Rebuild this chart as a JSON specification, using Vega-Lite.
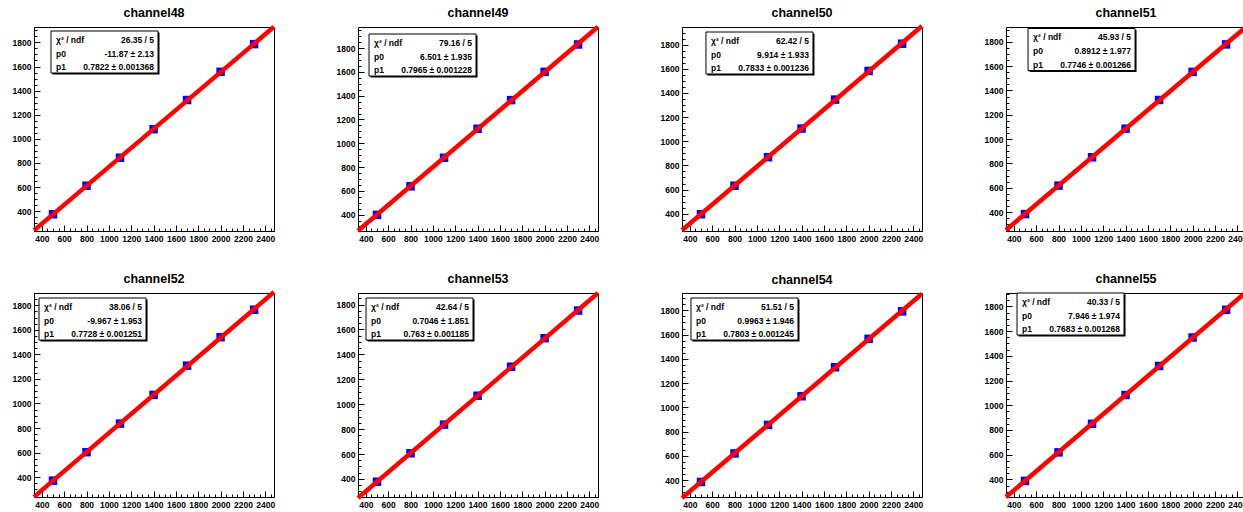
{
"$schema": "https://vega.github.io/schema/vega-lite/v6.json",
"background": "white",
"padding": {"left": 11, "top": 6, "right": 0, "bottom": 0},
"datasets": {
"points": [
{"ch":"channel48","x":500,"y":374},{"ch":"channel48","x":800,"y":611},{"ch":"channel48","x":1100,"y":843},{"ch":"channel48","x":1400,"y":1080},{"ch":"channel48","x":1700,"y":1322},{"ch":"channel48","x":2000,"y":1556},{"ch":"channel48","x":2300,"y":1786},
{"ch":"channel49","x":500,"y":398},{"ch":"channel49","x":800,"y":638},{"ch":"channel49","x":1100,"y":878},{"ch":"channel49","x":1400,"y":1122},{"ch":"channel49","x":1700,"y":1363},{"ch":"channel49","x":2000,"y":1601},{"ch":"channel49","x":2300,"y":1831},
{"ch":"channel50","x":500,"y":396},{"ch":"channel50","x":800,"y":632},{"ch":"channel50","x":1100,"y":868},{"ch":"channel50","x":1400,"y":1105},{"ch":"channel50","x":1700,"y":1345},{"ch":"channel50","x":2000,"y":1582},{"ch":"channel50","x":2300,"y":1808},
{"ch":"channel51","x":500,"y":384},{"ch":"channel51","x":800,"y":618},{"ch":"channel51","x":1100,"y":851},{"ch":"channel51","x":1400,"y":1086},{"ch":"channel51","x":1700,"y":1322},{"ch":"channel51","x":2000,"y":1553},{"ch":"channel51","x":2300,"y":1779},
{"ch":"channel52","x":500,"y":371},{"ch":"channel52","x":800,"y":603},{"ch":"channel52","x":1100,"y":836},{"ch":"channel52","x":1400,"y":1070},{"ch":"channel52","x":1700,"y":1308},{"ch":"channel52","x":2000,"y":1540},{"ch":"channel52","x":2300,"y":1764},
{"ch":"channel53","x":500,"y":378},{"ch":"channel53","x":800,"y":606},{"ch":"channel53","x":1100,"y":836},{"ch":"channel53","x":1400,"y":1068},{"ch":"channel53","x":1700,"y":1301},{"ch":"channel53","x":2000,"y":1530},{"ch":"channel53","x":2300,"y":1752},
{"ch":"channel54","x":500,"y":386},{"ch":"channel54","x":800,"y":621},{"ch":"channel54","x":1100,"y":856},{"ch":"channel54","x":1400,"y":1092},{"ch":"channel54","x":1700,"y":1331},{"ch":"channel54","x":2000,"y":1565},{"ch":"channel54","x":2300,"y":1792},
{"ch":"channel55","x":500,"y":388},{"ch":"channel55","x":800,"y":619},{"ch":"channel55","x":1100,"y":850},{"ch":"channel55","x":1400,"y":1083},{"ch":"channel55","x":1700,"y":1318},{"ch":"channel55","x":2000,"y":1548},{"ch":"channel55","x":2300,"y":1772}
],
"stats": [
{"ch":"channel48","row":1,"label":"χ² / ndf","value":"26.35 / 5"},{"ch":"channel48","row":2,"label":"p0","value":"-11.87 ± 2.13"},{"ch":"channel48","row":3,"label":"p1","value":"0.7822 ± 0.001368"},
{"ch":"channel49","row":1,"label":"χ² / ndf","value":"79.16 / 5"},{"ch":"channel49","row":2,"label":"p0","value":"6.501 ± 1.935"},{"ch":"channel49","row":3,"label":"p1","value":"0.7965 ± 0.001228"},
{"ch":"channel50","row":1,"label":"χ² / ndf","value":"62.42 / 5"},{"ch":"channel50","row":2,"label":"p0","value":"9.914 ± 1.933"},{"ch":"channel50","row":3,"label":"p1","value":"0.7833 ± 0.001236"},
{"ch":"channel51","row":1,"label":"χ² / ndf","value":"45.93 / 5"},{"ch":"channel51","row":2,"label":"p0","value":"0.8912 ± 1.977"},{"ch":"channel51","row":3,"label":"p1","value":"0.7746 ± 0.001266"},
{"ch":"channel52","row":1,"label":"χ² / ndf","value":"38.06 / 5"},{"ch":"channel52","row":2,"label":"p0","value":"-9.967 ± 1.953"},{"ch":"channel52","row":3,"label":"p1","value":"0.7728 ± 0.001251"},
{"ch":"channel53","row":1,"label":"χ² / ndf","value":"42.64 / 5"},{"ch":"channel53","row":2,"label":"p0","value":"0.7046 ± 1.851"},{"ch":"channel53","row":3,"label":"p1","value":"0.763 ± 0.001185"},
{"ch":"channel54","row":1,"label":"χ² / ndf","value":"51.51 / 5"},{"ch":"channel54","row":2,"label":"p0","value":"0.9963 ± 1.946"},{"ch":"channel54","row":3,"label":"p1","value":"0.7803 ± 0.001245"},
{"ch":"channel55","row":1,"label":"χ² / ndf","value":"40.33 / 5"},{"ch":"channel55","row":2,"label":"p0","value":"7.946 ± 1.974"},{"ch":"channel55","row":3,"label":"p1","value":"0.7683 ± 0.001268"}
]
},
"columns": 4,
"spacing": {"row": 62, "column": 84},
"bounds": "flush",
"concat": [
{"title":"channel48","width":240,"height":204,"resolve":{"scale":{"x":"independent","y":"independent"}},"layer":[
 {"data":{"name":"points"},"transform":[{"filter":"datum.ch === 'channel48'"}],
  "encoding":{"x":{"field":"x","type":"quantitative","scale":{"domain":[330,2478],"nice":false,"zero":false},"axis":{"title":null,"format":"d","tickCount":40,"labelExpr":"datum.value % 200 === 0 ? datum.label : ''","tickSize":{"condition":{"test":"datum.value % 200 === 0","value":-6},"value":-3},"labelPadding":9}},
   "y":{"field":"y","type":"quantitative","scale":{"domain":[235,1928],"nice":false,"zero":false},"axis":{"title":null,"format":"d","tickCount":40,"labelExpr":"datum.value % 200 === 0 ? datum.label : ''","tickSize":{"condition":{"test":"datum.value % 200 === 0","value":-6},"value":-3},"labelPadding":9}}},
  "layer":[{"mark":{"type":"square","size":72,"color":"#0000ff","opacity":1}},
   {"transform":[{"regression":"y","on":"x","extent":[330,2478]}],"mark":{"type":"line","color":"#ff0000","strokeWidth":4.5}}]},
 {"data":{"name":"stats"},"transform":[{"filter":"datum.ch === 'channel48'"}],"layer":[
  {"transform":[{"filter":"datum.row === 1"}],"mark":{"type":"rect","fill":"black"},"encoding":{"x":{"datum":0.014,"type":"quantitative","scale":{"domain":[-0.159,2.084],"nice":false,"zero":false},"axis":null},"x2":{"datum":1.014},"y":{"datum":0.45,"type":"quantitative","scale":{"domain":[0.051,14.94],"nice":false,"zero":false,"reverse":true},"axis":null},"y2":{"datum":3.52}}},
  {"transform":[{"filter":"datum.row === 1"}],"mark":{"type":"rect","fill":"white","stroke":"black","strokeWidth":1},"encoding":{"x":{"datum":0,"type":"quantitative","scale":{"domain":[-0.159,2.084],"nice":false,"zero":false},"axis":null},"x2":{"datum":1},"y":{"datum":0.343,"type":"quantitative","scale":{"domain":[0.051,14.94],"nice":false,"zero":false,"reverse":true},"axis":null},"y2":{"datum":3.409}}},
  {"mark":{"type":"text","align":"left","baseline":"middle","font":"Liberation Sans","fontWeight":"bold","fontSize":8.5,"color":"black"},"encoding":{"x":{"datum":0.047,"type":"quantitative","scale":{"domain":[-0.159,2.084],"nice":false,"zero":false},"axis":null},"y":{"field":"row","type":"quantitative","scale":{"domain":[0.051,14.94],"nice":false,"zero":false,"reverse":true},"axis":null},"text":{"field":"label"}}},
  {"mark":{"type":"text","align":"right","baseline":"middle","font":"Liberation Sans","fontWeight":"bold","fontSize":8.5,"color":"black"},"encoding":{"x":{"datum":0.963,"type":"quantitative","scale":{"domain":[-0.159,2.084],"nice":false,"zero":false},"axis":null},"y":{"field":"row","type":"quantitative","scale":{"domain":[0.051,14.94],"nice":false,"zero":false,"reverse":true},"axis":null},"text":{"field":"value"}}}
 ]}
]},
{"title":"channel49","width":240,"height":204,"resolve":{"scale":{"x":"independent","y":"independent"}},"layer":[
 {"data":{"name":"points"},"transform":[{"filter":"datum.ch === 'channel49'"}],
  "encoding":{"x":{"field":"x","type":"quantitative","scale":{"domain":[330,2478],"nice":false,"zero":false},"axis":{"title":null,"format":"d","tickCount":40,"labelExpr":"datum.value % 200 === 0 ? datum.label : ''","tickSize":{"condition":{"test":"datum.value % 200 === 0","value":-6},"value":-3},"labelPadding":9}},
   "y":{"field":"y","type":"quantitative","scale":{"domain":[262,1978],"nice":false,"zero":false},"axis":{"title":null,"format":"d","tickCount":40,"labelExpr":"datum.value % 200 === 0 ? datum.label : ''","tickSize":{"condition":{"test":"datum.value % 200 === 0","value":-6},"value":-3},"labelPadding":9}}},
  "layer":[{"mark":{"type":"square","size":72,"color":"#0000ff","opacity":1}},
   {"transform":[{"regression":"y","on":"x","extent":[330,2478]}],"mark":{"type":"line","color":"#ff0000","strokeWidth":4.5}}]},
 {"data":{"name":"stats"},"transform":[{"filter":"datum.ch === 'channel49'"}],"layer":[
  {"transform":[{"filter":"datum.row === 1"}],"mark":{"type":"rect","fill":"black"},"encoding":{"x":{"datum":0.014,"type":"quantitative","scale":{"domain":[-0.103,2.140],"nice":false,"zero":false},"axis":null},"x2":{"datum":1.014},"y":{"datum":0.45,"type":"quantitative","scale":{"domain":[-0.168,14.72],"nice":false,"zero":false,"reverse":true},"axis":null},"y2":{"datum":3.52}}},
  {"transform":[{"filter":"datum.row === 1"}],"mark":{"type":"rect","fill":"white","stroke":"black","strokeWidth":1},"encoding":{"x":{"datum":0,"type":"quantitative","scale":{"domain":[-0.103,2.140],"nice":false,"zero":false},"axis":null},"x2":{"datum":1},"y":{"datum":0.343,"type":"quantitative","scale":{"domain":[-0.168,14.72],"nice":false,"zero":false,"reverse":true},"axis":null},"y2":{"datum":3.409}}},
  {"mark":{"type":"text","align":"left","baseline":"middle","font":"Liberation Sans","fontWeight":"bold","fontSize":8.5,"color":"black"},"encoding":{"x":{"datum":0.047,"type":"quantitative","scale":{"domain":[-0.103,2.140],"nice":false,"zero":false},"axis":null},"y":{"field":"row","type":"quantitative","scale":{"domain":[-0.168,14.72],"nice":false,"zero":false,"reverse":true},"axis":null},"text":{"field":"label"}}},
  {"mark":{"type":"text","align":"right","baseline":"middle","font":"Liberation Sans","fontWeight":"bold","fontSize":8.5,"color":"black"},"encoding":{"x":{"datum":0.963,"type":"quantitative","scale":{"domain":[-0.103,2.140],"nice":false,"zero":false},"axis":null},"y":{"field":"row","type":"quantitative","scale":{"domain":[-0.168,14.72],"nice":false,"zero":false,"reverse":true},"axis":null},"text":{"field":"value"}}}
 ]}
]},
{"title":"channel50","width":240,"height":204,"resolve":{"scale":{"x":"independent","y":"independent"}},"layer":[
 {"data":{"name":"points"},"transform":[{"filter":"datum.ch === 'channel50'"}],
  "encoding":{"x":{"field":"x","type":"quantitative","scale":{"domain":[330,2478],"nice":false,"zero":false},"axis":{"title":null,"format":"d","tickCount":40,"labelExpr":"datum.value % 200 === 0 ? datum.label : ''","tickSize":{"condition":{"test":"datum.value % 200 === 0","value":-6},"value":-3},"labelPadding":9}},
   "y":{"field":"y","type":"quantitative","scale":{"domain":[257,1946],"nice":false,"zero":false},"axis":{"title":null,"format":"d","tickCount":40,"labelExpr":"datum.value % 200 === 0 ? datum.label : ''","tickSize":{"condition":{"test":"datum.value % 200 === 0","value":-6},"value":-3},"labelPadding":9}}},
  "layer":[{"mark":{"type":"square","size":72,"color":"#0000ff","opacity":1}},
   {"transform":[{"regression":"y","on":"x","extent":[330,2478]}],"mark":{"type":"line","color":"#ff0000","strokeWidth":4.5}}]},
 {"data":{"name":"stats"},"transform":[{"filter":"datum.ch === 'channel50'"}],"layer":[
  {"transform":[{"filter":"datum.row === 1"}],"mark":{"type":"rect","fill":"black"},"encoding":{"x":{"datum":0.014,"type":"quantitative","scale":{"domain":[-0.224,2.019],"nice":false,"zero":false},"axis":null},"x2":{"datum":1.014},"y":{"datum":0.45,"type":"quantitative","scale":{"domain":[-0.022,14.87],"nice":false,"zero":false,"reverse":true},"axis":null},"y2":{"datum":3.52}}},
  {"transform":[{"filter":"datum.row === 1"}],"mark":{"type":"rect","fill":"white","stroke":"black","strokeWidth":1},"encoding":{"x":{"datum":0,"type":"quantitative","scale":{"domain":[-0.224,2.019],"nice":false,"zero":false},"axis":null},"x2":{"datum":1},"y":{"datum":0.343,"type":"quantitative","scale":{"domain":[-0.022,14.87],"nice":false,"zero":false,"reverse":true},"axis":null},"y2":{"datum":3.409}}},
  {"mark":{"type":"text","align":"left","baseline":"middle","font":"Liberation Sans","fontWeight":"bold","fontSize":8.5,"color":"black"},"encoding":{"x":{"datum":0.047,"type":"quantitative","scale":{"domain":[-0.224,2.019],"nice":false,"zero":false},"axis":null},"y":{"field":"row","type":"quantitative","scale":{"domain":[-0.022,14.87],"nice":false,"zero":false,"reverse":true},"axis":null},"text":{"field":"label"}}},
  {"mark":{"type":"text","align":"right","baseline":"middle","font":"Liberation Sans","fontWeight":"bold","fontSize":8.5,"color":"black"},"encoding":{"x":{"datum":0.963,"type":"quantitative","scale":{"domain":[-0.224,2.019],"nice":false,"zero":false},"axis":null},"y":{"field":"row","type":"quantitative","scale":{"domain":[-0.022,14.87],"nice":false,"zero":false,"reverse":true},"axis":null},"text":{"field":"value"}}}
 ]}
]},
{"title":"channel51","width":240,"height":204,"resolve":{"scale":{"x":"independent","y":"independent"}},"layer":[
 {"data":{"name":"points"},"transform":[{"filter":"datum.ch === 'channel51'"}],
  "encoding":{"x":{"field":"x","type":"quantitative","scale":{"domain":[330,2478],"nice":false,"zero":false},"axis":{"title":null,"format":"d","tickCount":40,"labelExpr":"datum.value % 200 === 0 ? datum.label : ''","tickSize":{"condition":{"test":"datum.value % 200 === 0","value":-6},"value":-3},"labelPadding":9}},
   "y":{"field":"y","type":"quantitative","scale":{"domain":[245,1922],"nice":false,"zero":false},"axis":{"title":null,"format":"d","tickCount":40,"labelExpr":"datum.value % 200 === 0 ? datum.label : ''","tickSize":{"condition":{"test":"datum.value % 200 === 0","value":-6},"value":-3},"labelPadding":9}}},
  "layer":[{"mark":{"type":"square","size":72,"color":"#0000ff","opacity":1}},
   {"transform":[{"regression":"y","on":"x","extent":[330,2478]}],"mark":{"type":"line","color":"#ff0000","strokeWidth":4.5}}]},
 {"data":{"name":"stats"},"transform":[{"filter":"datum.ch === 'channel51'"}],"layer":[
  {"transform":[{"filter":"datum.row === 1"}],"mark":{"type":"rect","fill":"black"},"encoding":{"x":{"datum":0.014,"type":"quantitative","scale":{"domain":[-0.206,2.037],"nice":false,"zero":false},"axis":null},"x2":{"datum":1.014},"y":{"datum":0.45,"type":"quantitative","scale":{"domain":[0.234,15.12],"nice":false,"zero":false,"reverse":true},"axis":null},"y2":{"datum":3.52}}},
  {"transform":[{"filter":"datum.row === 1"}],"mark":{"type":"rect","fill":"white","stroke":"black","strokeWidth":1},"encoding":{"x":{"datum":0,"type":"quantitative","scale":{"domain":[-0.206,2.037],"nice":false,"zero":false},"axis":null},"x2":{"datum":1},"y":{"datum":0.343,"type":"quantitative","scale":{"domain":[0.234,15.12],"nice":false,"zero":false,"reverse":true},"axis":null},"y2":{"datum":3.409}}},
  {"mark":{"type":"text","align":"left","baseline":"middle","font":"Liberation Sans","fontWeight":"bold","fontSize":8.5,"color":"black"},"encoding":{"x":{"datum":0.047,"type":"quantitative","scale":{"domain":[-0.206,2.037],"nice":false,"zero":false},"axis":null},"y":{"field":"row","type":"quantitative","scale":{"domain":[0.234,15.12],"nice":false,"zero":false,"reverse":true},"axis":null},"text":{"field":"label"}}},
  {"mark":{"type":"text","align":"right","baseline":"middle","font":"Liberation Sans","fontWeight":"bold","fontSize":8.5,"color":"black"},"encoding":{"x":{"datum":0.963,"type":"quantitative","scale":{"domain":[-0.206,2.037],"nice":false,"zero":false},"axis":null},"y":{"field":"row","type":"quantitative","scale":{"domain":[0.234,15.12],"nice":false,"zero":false,"reverse":true},"axis":null},"text":{"field":"value"}}}
 ]}
]},
{"title":"channel52","width":240,"height":204,"resolve":{"scale":{"x":"independent","y":"independent"}},"layer":[
 {"data":{"name":"points"},"transform":[{"filter":"datum.ch === 'channel52'"}],
  "encoding":{"x":{"field":"x","type":"quantitative","scale":{"domain":[330,2478],"nice":false,"zero":false},"axis":{"title":null,"format":"d","tickCount":40,"labelExpr":"datum.value % 200 === 0 ? datum.label : ''","tickSize":{"condition":{"test":"datum.value % 200 === 0","value":-6},"value":-3},"labelPadding":9}},
   "y":{"field":"y","type":"quantitative","scale":{"domain":[238,1900],"nice":false,"zero":false},"axis":{"title":null,"format":"d","tickCount":40,"labelExpr":"datum.value % 200 === 0 ? datum.label : ''","tickSize":{"condition":{"test":"datum.value % 200 === 0","value":-6},"value":-3},"labelPadding":9}}},
  "layer":[{"mark":{"type":"square","size":72,"color":"#0000ff","opacity":1}},
   {"transform":[{"regression":"y","on":"x","extent":[330,2478]}],"mark":{"type":"line","color":"#ff0000","strokeWidth":4.5}}]},
 {"data":{"name":"stats"},"transform":[{"filter":"datum.ch === 'channel52'"}],"layer":[
  {"transform":[{"filter":"datum.row === 1"}],"mark":{"type":"rect","fill":"black"},"encoding":{"x":{"datum":0.014,"type":"quantitative","scale":{"domain":[-0.047,2.196],"nice":false,"zero":false},"axis":null},"x2":{"datum":1.014},"y":{"datum":0.45,"type":"quantitative","scale":{"domain":[-0.022,14.87],"nice":false,"zero":false,"reverse":true},"axis":null},"y2":{"datum":3.52}}},
  {"transform":[{"filter":"datum.row === 1"}],"mark":{"type":"rect","fill":"white","stroke":"black","strokeWidth":1},"encoding":{"x":{"datum":0,"type":"quantitative","scale":{"domain":[-0.047,2.196],"nice":false,"zero":false},"axis":null},"x2":{"datum":1},"y":{"datum":0.343,"type":"quantitative","scale":{"domain":[-0.022,14.87],"nice":false,"zero":false,"reverse":true},"axis":null},"y2":{"datum":3.409}}},
  {"mark":{"type":"text","align":"left","baseline":"middle","font":"Liberation Sans","fontWeight":"bold","fontSize":8.5,"color":"black"},"encoding":{"x":{"datum":0.047,"type":"quantitative","scale":{"domain":[-0.047,2.196],"nice":false,"zero":false},"axis":null},"y":{"field":"row","type":"quantitative","scale":{"domain":[-0.022,14.87],"nice":false,"zero":false,"reverse":true},"axis":null},"text":{"field":"label"}}},
  {"mark":{"type":"text","align":"right","baseline":"middle","font":"Liberation Sans","fontWeight":"bold","fontSize":8.5,"color":"black"},"encoding":{"x":{"datum":0.963,"type":"quantitative","scale":{"domain":[-0.047,2.196],"nice":false,"zero":false},"axis":null},"y":{"field":"row","type":"quantitative","scale":{"domain":[-0.022,14.87],"nice":false,"zero":false,"reverse":true},"axis":null},"text":{"field":"value"}}}
 ]}
]},
{"title":"channel53","width":240,"height":204,"resolve":{"scale":{"x":"independent","y":"independent"}},"layer":[
 {"data":{"name":"points"},"transform":[{"filter":"datum.ch === 'channel53'"}],
  "encoding":{"x":{"field":"x","type":"quantitative","scale":{"domain":[330,2478],"nice":false,"zero":false},"axis":{"title":null,"format":"d","tickCount":40,"labelExpr":"datum.value % 200 === 0 ? datum.label : ''","tickSize":{"condition":{"test":"datum.value % 200 === 0","value":-6},"value":-3},"labelPadding":9}},
   "y":{"field":"y","type":"quantitative","scale":{"domain":[255,1893],"nice":false,"zero":false},"axis":{"title":null,"format":"d","tickCount":40,"labelExpr":"datum.value % 200 === 0 ? datum.label : ''","tickSize":{"condition":{"test":"datum.value % 200 === 0","value":-6},"value":-3},"labelPadding":9}}},
  "layer":[{"mark":{"type":"square","size":72,"color":"#0000ff","opacity":1}},
   {"transform":[{"regression":"y","on":"x","extent":[330,2478]}],"mark":{"type":"line","color":"#ff0000","strokeWidth":4.5}}]},
 {"data":{"name":"stats"},"transform":[{"filter":"datum.ch === 'channel53'"}],"layer":[
  {"transform":[{"filter":"datum.row === 1"}],"mark":{"type":"rect","fill":"black"},"encoding":{"x":{"datum":0.014,"type":"quantitative","scale":{"domain":[-0.075,2.168],"nice":false,"zero":false},"axis":null},"x2":{"datum":1.014},"y":{"datum":0.45,"type":"quantitative","scale":{"domain":[-0.022,14.87],"nice":false,"zero":false,"reverse":true},"axis":null},"y2":{"datum":3.52}}},
  {"transform":[{"filter":"datum.row === 1"}],"mark":{"type":"rect","fill":"white","stroke":"black","strokeWidth":1},"encoding":{"x":{"datum":0,"type":"quantitative","scale":{"domain":[-0.075,2.168],"nice":false,"zero":false},"axis":null},"x2":{"datum":1},"y":{"datum":0.343,"type":"quantitative","scale":{"domain":[-0.022,14.87],"nice":false,"zero":false,"reverse":true},"axis":null},"y2":{"datum":3.409}}},
  {"mark":{"type":"text","align":"left","baseline":"middle","font":"Liberation Sans","fontWeight":"bold","fontSize":8.5,"color":"black"},"encoding":{"x":{"datum":0.047,"type":"quantitative","scale":{"domain":[-0.075,2.168],"nice":false,"zero":false},"axis":null},"y":{"field":"row","type":"quantitative","scale":{"domain":[-0.022,14.87],"nice":false,"zero":false,"reverse":true},"axis":null},"text":{"field":"label"}}},
  {"mark":{"type":"text","align":"right","baseline":"middle","font":"Liberation Sans","fontWeight":"bold","fontSize":8.5,"color":"black"},"encoding":{"x":{"datum":0.963,"type":"quantitative","scale":{"domain":[-0.075,2.168],"nice":false,"zero":false},"axis":null},"y":{"field":"row","type":"quantitative","scale":{"domain":[-0.022,14.87],"nice":false,"zero":false,"reverse":true},"axis":null},"text":{"field":"value"}}}
 ]}
]},
{"title":"channel54","width":240,"height":204,"resolve":{"scale":{"x":"independent","y":"independent"}},"layer":[
 {"data":{"name":"points"},"transform":[{"filter":"datum.ch === 'channel54'"}],
  "encoding":{"x":{"field":"x","type":"quantitative","scale":{"domain":[330,2478],"nice":false,"zero":false},"axis":{"title":null,"format":"d","tickCount":40,"labelExpr":"datum.value % 200 === 0 ? datum.label : ''","tickSize":{"condition":{"test":"datum.value % 200 === 0","value":-6},"value":-3},"labelPadding":9}},
   "y":{"field":"y","type":"quantitative","scale":{"domain":[262,1943],"nice":false,"zero":false},"axis":{"title":null,"format":"d","tickCount":40,"labelExpr":"datum.value % 200 === 0 ? datum.label : ''","tickSize":{"condition":{"test":"datum.value % 200 === 0","value":-6},"value":-3},"labelPadding":9}}},
  "layer":[{"mark":{"type":"square","size":72,"color":"#0000ff","opacity":1}},
   {"transform":[{"regression":"y","on":"x","extent":[330,2478]}],"mark":{"type":"line","color":"#ff0000","strokeWidth":4.5}}]},
 {"data":{"name":"stats"},"transform":[{"filter":"datum.ch === 'channel54'"}],"layer":[
  {"transform":[{"filter":"datum.row === 1"}],"mark":{"type":"rect","fill":"black"},"encoding":{"x":{"datum":0.014,"type":"quantitative","scale":{"domain":[-0.084,2.159],"nice":false,"zero":false},"axis":null},"x2":{"datum":1.014},"y":{"datum":0.45,"type":"quantitative","scale":{"domain":[-0.022,14.87],"nice":false,"zero":false,"reverse":true},"axis":null},"y2":{"datum":3.52}}},
  {"transform":[{"filter":"datum.row === 1"}],"mark":{"type":"rect","fill":"white","stroke":"black","strokeWidth":1},"encoding":{"x":{"datum":0,"type":"quantitative","scale":{"domain":[-0.084,2.159],"nice":false,"zero":false},"axis":null},"x2":{"datum":1},"y":{"datum":0.343,"type":"quantitative","scale":{"domain":[-0.022,14.87],"nice":false,"zero":false,"reverse":true},"axis":null},"y2":{"datum":3.409}}},
  {"mark":{"type":"text","align":"left","baseline":"middle","font":"Liberation Sans","fontWeight":"bold","fontSize":8.5,"color":"black"},"encoding":{"x":{"datum":0.047,"type":"quantitative","scale":{"domain":[-0.084,2.159],"nice":false,"zero":false},"axis":null},"y":{"field":"row","type":"quantitative","scale":{"domain":[-0.022,14.87],"nice":false,"zero":false,"reverse":true},"axis":null},"text":{"field":"label"}}},
  {"mark":{"type":"text","align":"right","baseline":"middle","font":"Liberation Sans","fontWeight":"bold","fontSize":8.5,"color":"black"},"encoding":{"x":{"datum":0.963,"type":"quantitative","scale":{"domain":[-0.084,2.159],"nice":false,"zero":false},"axis":null},"y":{"field":"row","type":"quantitative","scale":{"domain":[-0.022,14.87],"nice":false,"zero":false,"reverse":true},"axis":null},"text":{"field":"value"}}}
 ]}
]},
{"title":"channel55","width":240,"height":204,"resolve":{"scale":{"x":"independent","y":"independent"}},"layer":[
 {"data":{"name":"points"},"transform":[{"filter":"datum.ch === 'channel55'"}],
  "encoding":{"x":{"field":"x","type":"quantitative","scale":{"domain":[330,2478],"nice":false,"zero":false},"axis":{"title":null,"format":"d","tickCount":40,"labelExpr":"datum.value % 200 === 0 ? datum.label : ''","tickSize":{"condition":{"test":"datum.value % 200 === 0","value":-6},"value":-3},"labelPadding":9}},
   "y":{"field":"y","type":"quantitative","scale":{"domain":[258,1908],"nice":false,"zero":false},"axis":{"title":null,"format":"d","tickCount":40,"labelExpr":"datum.value % 200 === 0 ? datum.label : ''","tickSize":{"condition":{"test":"datum.value % 200 === 0","value":-6},"value":-3},"labelPadding":9}}},
  "layer":[{"mark":{"type":"square","size":72,"color":"#0000ff","opacity":1}},
   {"transform":[{"regression":"y","on":"x","extent":[330,2478]}],"mark":{"type":"line","color":"#ff0000","strokeWidth":4.5}}]},
 {"data":{"name":"stats"},"transform":[{"filter":"datum.ch === 'channel55'"}],"layer":[
  {"transform":[{"filter":"datum.row === 1"}],"mark":{"type":"rect","fill":"black"},"encoding":{"x":{"datum":0.014,"type":"quantitative","scale":{"domain":[-0.103,2.140],"nice":false,"zero":false},"axis":null},"x2":{"datum":1.014},"y":{"datum":0.45,"type":"quantitative","scale":{"domain":[0.343,15.23],"nice":false,"zero":false,"reverse":true},"axis":null},"y2":{"datum":3.52}}},
  {"transform":[{"filter":"datum.row === 1"}],"mark":{"type":"rect","fill":"white","stroke":"black","strokeWidth":1},"encoding":{"x":{"datum":0,"type":"quantitative","scale":{"domain":[-0.103,2.140],"nice":false,"zero":false},"axis":null},"x2":{"datum":1},"y":{"datum":0.343,"type":"quantitative","scale":{"domain":[0.343,15.23],"nice":false,"zero":false,"reverse":true},"axis":null},"y2":{"datum":3.409}}},
  {"mark":{"type":"text","align":"left","baseline":"middle","font":"Liberation Sans","fontWeight":"bold","fontSize":8.5,"color":"black"},"encoding":{"x":{"datum":0.047,"type":"quantitative","scale":{"domain":[-0.103,2.140],"nice":false,"zero":false},"axis":null},"y":{"field":"row","type":"quantitative","scale":{"domain":[0.343,15.23],"nice":false,"zero":false,"reverse":true},"axis":null},"text":{"field":"label"}}},
  {"mark":{"type":"text","align":"right","baseline":"middle","font":"Liberation Sans","fontWeight":"bold","fontSize":8.5,"color":"black"},"encoding":{"x":{"datum":0.963,"type":"quantitative","scale":{"domain":[-0.103,2.140],"nice":false,"zero":false},"axis":null},"y":{"field":"row","type":"quantitative","scale":{"domain":[0.343,15.23],"nice":false,"zero":false,"reverse":true},"axis":null},"text":{"field":"value"}}}
 ]}
]}
],
"config": {
 "font": "Liberation Sans",
 "view": {"stroke": "black", "strokeWidth": 1},
 "axis": {"grid": false, "domainColor": "black", "domainWidth": 1, "tickColor": "black", "tickWidth": 1, "labelFont": "Liberation Sans", "labelFontWeight": "bold", "labelFontSize": 8.5, "labelColor": "black", "labelOverlap": false, "labelFlush": false, "labelBound": false},
 "title": {"font": "Liberation Sans", "fontSize": 12.5, "fontWeight": "bold", "color": "black", "offset": -2, "anchor": "middle"}
}
}
